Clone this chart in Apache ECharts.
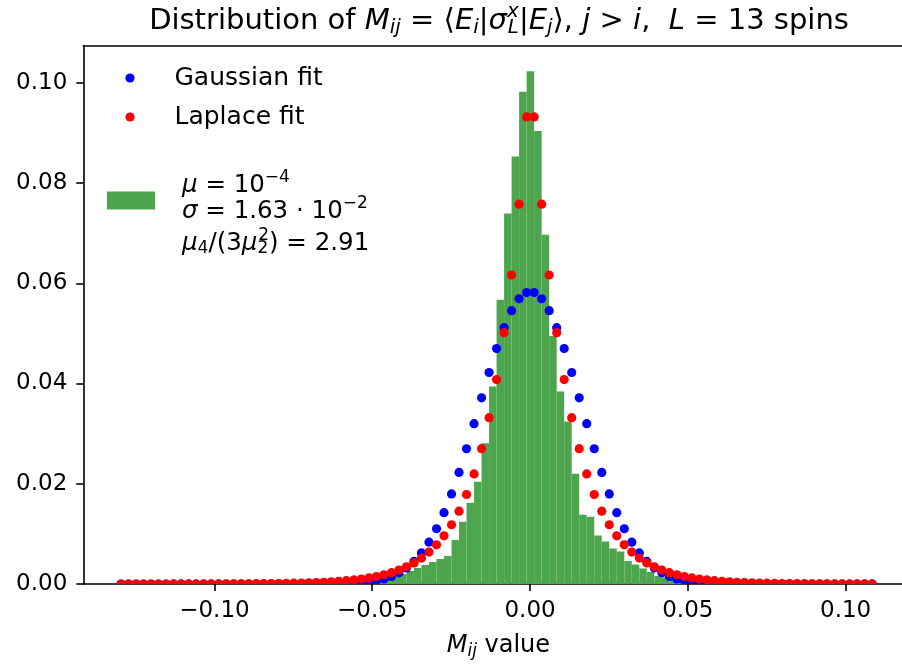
<!DOCTYPE html>
<html><head><meta charset="utf-8">
<script src="https://cdn.jsdelivr.net/npm/echarts@6/dist/echarts.min.js"></script>
<style>html,body{margin:0;padding:0;background:#fff}#c{width:902px;height:665px}</style>
</head><body><div id="c"></div>
<script>
// ---- data ----
const binEdges = [
 -0.12960,-0.12722,-0.12484,-0.12246,-0.12008,-0.11770,-0.11532,-0.11294,-0.11056,-0.10818,
 -0.10580,-0.10342,-0.10104,-0.09866,-0.09628,-0.09390,-0.09152,-0.08914,-0.08676,-0.08438,
 -0.08200,-0.07962,-0.07724,-0.07486,-0.07248,-0.07010,-0.06772,-0.06534,-0.06296,-0.06058,
 -0.05820,-0.05582,-0.05344,-0.05106,-0.04868,-0.04630,-0.04392,-0.04154,-0.03916,-0.03678,
 -0.03440,-0.03202,-0.02964,-0.02726,-0.02488,-0.02250,-0.02012,-0.01774,-0.01536,-0.01298,
 -0.01060,-0.00822,-0.00584,-0.00346,-0.00108, 0.00130, 0.00368, 0.00606, 0.00844, 0.01082,
  0.01320, 0.01558, 0.01796, 0.02034, 0.02272, 0.02510, 0.02748, 0.02986, 0.03224, 0.03462,
  0.03700, 0.03938, 0.04176, 0.04414, 0.04652, 0.04890, 0.05128, 0.05366, 0.05604, 0.05842,
  0.06080, 0.06318, 0.06556, 0.06794, 0.07032, 0.07270, 0.07508, 0.07746, 0.07984, 0.08222,
  0.08460, 0.08698, 0.08936, 0.09174, 0.09412, 0.09650, 0.09888, 0.10126, 0.10364, 0.10602,
  0.10840
];
const histValues = [
 0,0,0,0,0,0,0,0,0,0,
 0,0,0,0,0,0,0,0,0,0,
 0,0,0,0,0,0,0,0,0,0,
 0,0.0001,0.0002,0.0004,0.0007,0.0011,0.0015,0.0020,0.0026,0.0032,
 0.0038,0.0044,0.0050,0.0056,0.0088,0.0124,0.0162,0.0204,0.0281,0.0394,
 0.0567,0.0739,0.0853,0.0982,0.1023,0.0904,0.0697,0.0495,0.0384,0.0324,
 0.0220,0.0138,0.0134,0.0097,0.0085,0.0071,0.0065,0.0046,0.0039,0.0031,
 0.0024,0.0016,0.0013,0.0010,0.0008,0.0006,0.0004,0.0003,0.0002,0.0001,
 0,0,0,0,0,0,0,0,0,0,
 0,0,0,0,0,0,0,0,0,0
];
const gaussFit = [
 0,0,0,0,0,0,0,0,0,0,
 0,0,0,0,0,0,0,0,0,0,
 0,0,0,0,0,0,0.0000101,0.0000183,0.0000325,0.0000564,
 0.0000966,0.000161,0.000264,0.000422,0.000660,0.001011,0.001516,0.002226,0.003201,0.004499,
 0.006192,0.008350,0.01102,0.01423,0.01798,0.02227,0.02698,0.03198,0.03714,0.04220,
 0.04697,0.05115,0.05453,0.05691,0.05814,0.05814,0.05691,0.05453,0.05115,0.04697,
 0.04220,0.03714,0.03198,0.02698,0.02227,0.01798,0.01423,0.01102,0.008350,0.006192,
 0.004499,0.003201,0.002226,0.001516,0.001011,0.000660,0.000422,0.000264,0.000161,0.0000966,
 0.0000564,0.0000325,0.0000183,0.0000101,0,0,0,0,0,0,
 0,0,0,0,0,0,0,0,0,0,
 0
];
const laplaceFit = [
 0.0000013,0.0000017,0.0000020,0.0000025,0.0000031,0.0000038,0.0000046,0.0000057,0.0000070,0.0000086,
 0.0000106,0.0000130,0.0000160,0.0000196,0.0000241,0.0000296,0.0000364,0.0000448,0.0000551,0.0000677,
 0.0000832,0.000102,0.000126,0.000155,0.000190,0.000234,0.000287,0.000353,0.000434,0.000534,
 0.000656,0.000807,0.000992,0.001219,0.001499,0.001843,0.002266,0.002786,0.003424,0.004209,
 0.005174,0.006361,0.007820,0.009613,0.01182,0.01453,0.01786,0.02196,0.02699,0.03318,
 0.04079,0.05015,0.06165,0.07579,0.09318,0.09318,0.07579,0.06165,0.05015,0.04079,
 0.03318,0.02699,0.02196,0.01786,0.01453,0.01182,0.009613,0.007820,0.006361,0.005174,
 0.004209,0.003424,0.002786,0.002266,0.001843,0.001499,0.001219,0.000992,0.000807,0.000656,
 0.000534,0.000434,0.000353,0.000287,0.000234,0.000190,0.000155,0.000126,0.000102,0.0000832,
 0.0000677,0.0000551,0.0000448,0.0000364,0.0000296,0.0000241,0.0000196,0.0000160,0.0000130,0.0000106,
 0.0000086
];
const xTicks = [-0.10, -0.05, 0.00, 0.05, 0.10];
const yTicks = [0.00, 0.02, 0.04, 0.06, 0.08, 0.10];
const seriesNames = ['Gaussian fit', 'Laplace fit', 'stats'];

// ---- chart ----
const FONT = 'DejaVu Sans';
const GREEN = '#4DA64D';
const chart = echarts.init(document.getElementById('c'), null, {renderer: 'canvas'});

const histData = histValues.map((h, i) => [binEdges[i], binEdges[i + 1], h]);
const gaussData = binEdges.map((x, i) => [x, gaussFit[i]]);
const laplaceData = binEdges.map((x, i) => [x, laplaceFit[i]]);

function barRender(params, api) {
  const p0 = api.coord([api.value(0), api.value(2)]);
  const p1 = api.coord([api.value(1), 0]);
  return {type: 'rect', shape: {x: p0[0], y: p0[1], width: p1[0] - p0[0], height: p1[1] - p0[1]},
          style: {fill: GREEN}};
}
function dotRender(params, api) {
  const p = api.coord([api.value(0), api.value(1)]);
  return {type: 'circle', shape: {cx: p[0], cy: p[1], r: 4.6}, style: {fill: api.visual('color')}};
}
const tickFmt = v => (v < -1e-9 ? '\u2212' : '') + Math.abs(v).toFixed(2);
const XMIN = -0.14155, XMAX = 0.1215;

const TS = 29;
const titleRich = {
  it: {fontStyle: 'italic', fontSize: TS, fontFamily: FONT, fill: '#000'},
  sb: {fontStyle: 'italic', fontSize: 20, fontFamily: FONT, fill: '#000', padding: [14, 0, 0, 0]},
  sp: {fontStyle: 'italic', fontSize: 20, fontFamily: FONT, fill: '#000', padding: [0, 0, 18, 0]},
  sbL: {fontStyle: 'italic', fontSize: 20, fontFamily: FONT, fill: '#000', padding: [14, 0, 0, -11]}
};
const LS = 24.5;

const option = {
  animation: false,
  backgroundColor: '#fff',
  textStyle: {fontFamily: FONT},
  grid: {left: 83.3, right: -11.5, top: 45.7, bottom: 81, containLabel: false, outerBoundsMode: 'none'},
  xAxis: [{
    type: 'value', min: XMIN, max: XMAX, position: 'bottom',
    axisLine: {show: true, onZero: false, lineStyle: {color: '#000', width: 1.6}},
    axisTick: {show: true, inside: false, length: 7, customValues: xTicks, lineStyle: {color: '#000', width: 1.6}},
    axisLabel: {customValues: xTicks, formatter: tickFmt, fontSize: 23, fontFamily: FONT, color: '#000', margin: 16},
    splitLine: {show: false},
    name: '{it|M}{sb|ij} value', nameLocation: 'middle', nameGap: 47, nameMoveOverlap: false,
    nameTextStyle: {fontSize: 24, fontFamily: FONT, color: '#000', lineHeight: 30,
      rich: {it: {fontStyle: 'italic', fontSize: 24, fontFamily: FONT, color: '#000', lineHeight: 30},
             sb: {fontStyle: 'italic', fontSize: 17, fontFamily: FONT, color: '#000', lineHeight: 30, padding: [12, 0, 0, 0]}}}
  }, {
    type: 'value', min: XMIN, max: XMAX, position: 'top',
    axisLine: {show: true, onZero: false, lineStyle: {color: '#000', width: 1.6}},
    axisTick: {show: false}, axisLabel: {show: false}, splitLine: {show: false}
  }],
  yAxis: {
    type: 'value', min: 0, max: 0.1074,
    axisLine: {show: true, onZero: false, lineStyle: {color: '#000', width: 1.6}},
    axisTick: {show: true, inside: false, length: 7, customValues: yTicks, lineStyle: {color: '#000', width: 1.6}},
    axisLabel: {customValues: yTicks, formatter: v => v.toFixed(2), fontSize: 23, fontFamily: FONT, color: '#000', margin: 16},
    splitLine: {show: false}
  },
  legend: [{
    data: [{name: seriesNames[0], icon: 'circle'}, {name: seriesNames[1], icon: 'circle'}],
    orient: 'vertical', left: 120.4, top: 59, itemWidth: 45, itemHeight: 9.2, itemGap: 11,
    selectedMode: false,
    formatter: name => '{s|}{t|' + name + '}',
    textStyle: {fontSize: 25, fontFamily: FONT, color: '#000', lineHeight: 28,
      rich: {s: {width: 17, lineHeight: 28}, t: {fontSize: 25, fontFamily: FONT, color: '#000', lineHeight: 28}}}
  }, {
    data: [{name: seriesNames[2], icon: 'rect', itemStyle: {color: GREEN}}],
    orient: 'vertical', left: 102, top: 133.5, itemWidth: 48, itemHeight: 18,
    selectedMode: false,
    formatter: () => '{l1i|\u03bc}{l1| = 10}{sp|\u22124}\n{it|\u03c3} = 1.63 \u00b7 10{sp|\u22122}\n' +
      '{l3i|\u03bc}{sb|4}{l3|/(3}{l3i|\u03bc}{sb|2}{spb|2}{l3|) = 2.91}',
    textStyle: {fontSize: LS, fontFamily: FONT, color: '#000', lineHeight: 25, padding: [33, 0, 0, 22],
      rich: {
        l1: {fontSize: LS, fontFamily: FONT, color: '#000', lineHeight: 28},
        l1i: {fontStyle: 'italic', fontSize: LS, fontFamily: FONT, color: '#000', lineHeight: 28},
        it: {fontStyle: 'italic', fontSize: LS, fontFamily: FONT, color: '#000', lineHeight: 25},
        sp: {fontSize: 17, fontFamily: FONT, color: '#000', padding: [0, 0, 16, 0]},
        l3: {fontSize: LS, fontFamily: FONT, color: '#000', lineHeight: 38},
        l3i: {fontStyle: 'italic', fontSize: LS, fontFamily: FONT, color: '#000', lineHeight: 38},
        sb: {fontSize: 17, fontFamily: FONT, color: '#000', lineHeight: 38, padding: [10, 0, 0, 0]},
        spb: {fontSize: 17, fontFamily: FONT, color: '#000', lineHeight: 38, padding: [0, 0, 16, -10]}
      }}
  }],
  graphic: [{
    type: 'text', x: 499, y: 21, silent: true,
    style: {
      text: 'Distribution of {it|M}{sb|ij} = \u27e8{it|E}{sb|i}|{it|\u03c3}{sp|x}{sbL|L}|{it|E}{sb|j}\u27e9, {it|j} > {it|i},  {it|L} = 13 spins',
      fontSize: TS, fontFamily: FONT, fill: '#000', align: 'center', verticalAlign: 'middle',
      rich: titleRich
    }
  }],
  series: [{
    name: seriesNames[2], type: 'custom', renderItem: barRender, data: histData,
    encode: {x: [0, 1], y: 2}, itemStyle: {color: GREEN}, clip: true, z: 1, silent: true
  }, {
    name: seriesNames[0], type: 'custom', renderItem: dotRender, data: gaussData,
    encode: {x: 0, y: 1}, itemStyle: {color: '#0000FF'}, clip: true, z: 2, silent: true
  }, {
    name: seriesNames[1], type: 'custom', renderItem: dotRender, data: laplaceData,
    encode: {x: 0, y: 1}, itemStyle: {color: '#FF0000'}, clip: true, z: 3, silent: true
  }]
};
chart.setOption(option);
</script>
</body></html>
